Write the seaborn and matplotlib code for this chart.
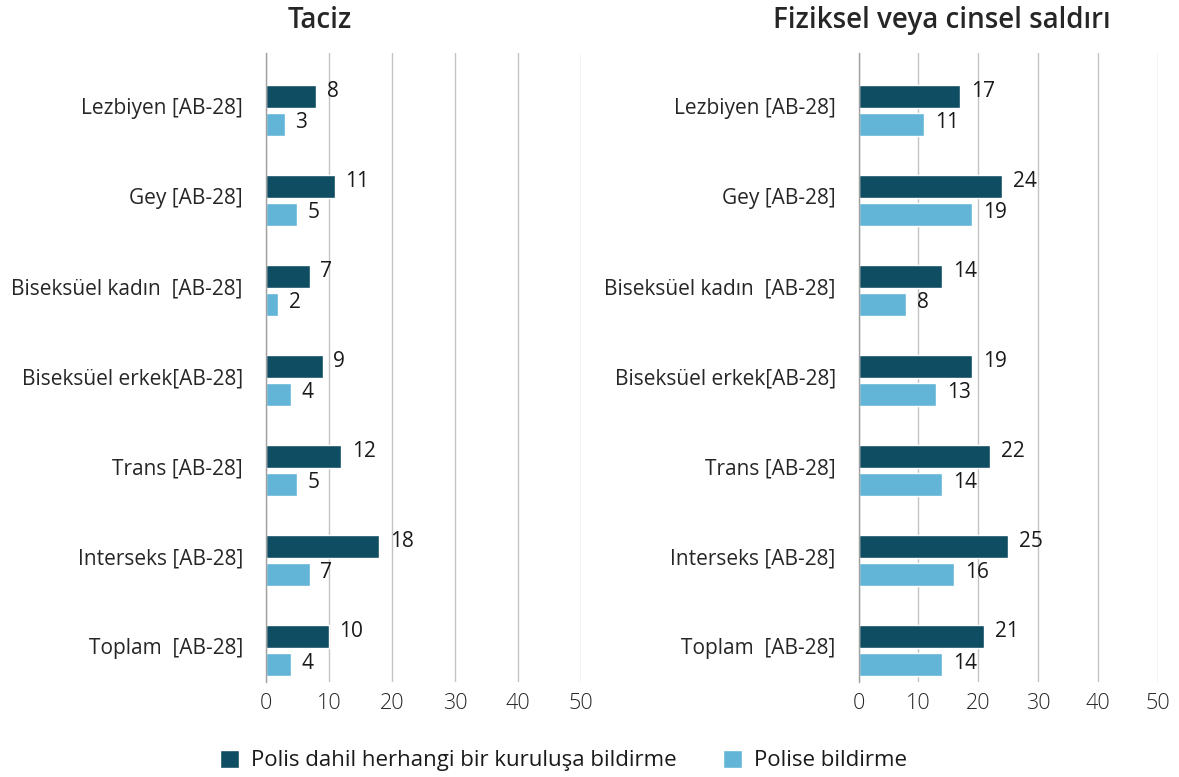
import matplotlib
matplotlib.use("Agg")
import matplotlib.pyplot as plt
import matplotlib.transforms as mtransforms
import seaborn as sns
import pandas as pd
from matplotlib.patches import Patch

# categories and values
categories = ["Lezbiyen [AB-28]", "Gey [AB-28]", "Biseksüel kadın  [AB-28]",
              "Biseksüel erkek[AB-28]", "Trans [AB-28]", "Interseks [AB-28]",
              "Toplam  [AB-28]"]
series = ["Polis dahil herhangi bir kuruluşa bildirme", "Polise bildirme"]

taciz_any = [8, 11, 7, 9, 12, 18, 10]
taciz_police = [3, 5, 2, 4, 5, 7, 4]
saldiri_any = [17, 24, 14, 19, 22, 25, 21]
saldiri_police = [11, 19, 8, 13, 14, 16, 14]

titles = ["Taciz", "Fiziksel veya cinsel saldırı"]
x_ticks = [0, 10, 20, 30, 40, 50]

DARK = "#0f4d63"
LIGHT = "#62b5d6"
TEXT = "#262626"

sns.set_style("white")
plt.rcParams["font.family"] = ["Open Sans", "DejaVu Sans"]


def long_table(any_vals, police_vals):
    rows = []
    for cat, a, p in zip(categories, any_vals, police_vals):
        rows.append({"kategori": cat, "seri": series[0], "deger": a})
        rows.append({"kategori": cat, "seri": series[1], "deger": p})
    return pd.DataFrame(rows)


def draw_panel(ax, df):
    sns.barplot(data=df, y="kategori", x="deger", hue="seri", orient="h",
                order=categories, hue_order=series,
                palette=[DARK, LIGHT], width=0.63, gap=0.2,
                saturation=1, legend=False, ax=ax)
    ax.set_xlim(0, 50)
    ax.set_ylim(6.347, -0.636)
    ax.set_xticks(x_ticks)
    ax.set_xlabel("")
    ax.set_ylabel("")
    ax.grid(axis="x", color="#c3c3c3", linewidth=1)
    ax.set_axisbelow(True)
    for side in ["top", "right", "bottom"]:
        ax.spines[side].set_visible(False)
    ax.spines["left"].set_color("#a0a0a0")
    ax.spines["left"].set_linewidth(1)
    ax.tick_params(axis="y", length=0, pad=16.5, labelsize=15, labelcolor=TEXT)
    ax.tick_params(axis="x", length=0, pad=8, labelsize=15.5, labelcolor=TEXT)
    for lab in ax.get_xticklabels():
        lab.set_fontweight("light")
    # category labels sit slightly above the bar pair
    shift = mtransforms.ScaledTranslation(0, 3 / 72, ax.figure.dpi_scale_trans)
    for lab in ax.get_yticklabels():
        lab.set_transform(lab.get_transform() + shift)

    # value labels: dark series sits a bit higher than its bar
    for i, cont in enumerate(ax.containers):
        dy = 3.3 if i == 0 else 1.2
        for bar in cont:
            w = bar.get_width()
            yc = bar.get_y() + bar.get_height() / 2
            ax.annotate(f"{w:.0f}", xy=(w, yc), xytext=(7.5, dy),
                        textcoords="offset points", ha="left", va="center",
                        fontsize=15, color="#1a1a1a")


fig = plt.figure(figsize=(11.79, 7.77), dpi=100)
ax1 = fig.add_axes([0.2254, 0.1226, 0.2675, 0.809])
ax2 = fig.add_axes([0.7282, 0.1226, 0.2537, 0.809])

draw_panel(ax1, long_table(taciz_any, taciz_police))
draw_panel(ax2, long_table(saldiri_any, saldiri_police))

fig.text(0.2715, 0.974, titles[0], ha="center", va="center",
         fontsize=20, fontweight="semibold", color=TEXT)
fig.text(0.7987, 0.974, titles[1], ha="center", va="center",
         fontsize=20, fontweight="semibold", color=TEXT)

handles = [Patch(facecolor=DARK, label=series[0]),
           Patch(facecolor=LIGHT, label=series[1])]
fig.legend(handles=handles, loc="center", bbox_to_anchor=(0.478, 0.021),
           ncol=2, frameon=False, fontsize=16, handlelength=0.85,
           handleheight=0.85, handletextpad=0.55, columnspacing=2.1,
           labelcolor="#1a1a1a")

fig.savefig("out.png", dpi=100)
